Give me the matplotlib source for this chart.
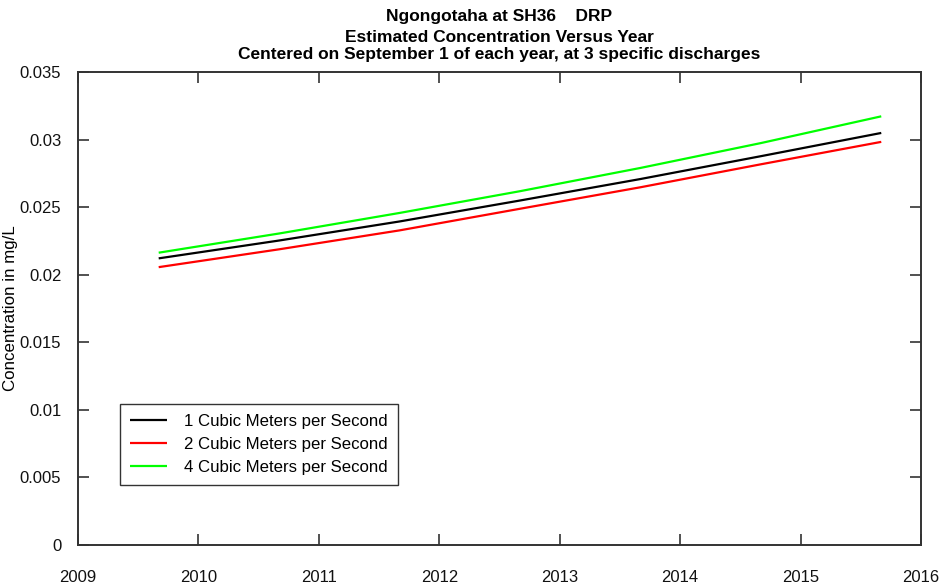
import matplotlib
matplotlib.use("Agg")
import matplotlib.pyplot as plt

# Estimated DRP concentration, centred on 1 September of each year
years = [2009.67, 2010.67, 2011.67, 2012.67, 2013.67, 2014.67, 2015.67]
conc_q1 = [0.02121, 0.02253, 0.02394, 0.02549, 0.02708, 0.02877, 0.03049]
conc_q2 = [0.02056, 0.02188, 0.02328, 0.02488, 0.02647, 0.02817, 0.02983]
conc_q4 = [0.02163, 0.02305, 0.02457, 0.02618, 0.02790, 0.02974, 0.03172]

series_labels = ["1 Cubic Meters per Second",
                 "2 Cubic Meters per Second",
                 "4 Cubic Meters per Second"]
series_colors = ["#000000", "#ff0000", "#00ff00"]

x_ticks = [2009, 2010, 2011, 2012, 2013, 2014, 2015, 2016]
y_ticks = [0, 0.005, 0.01, 0.015, 0.02, 0.025, 0.03, 0.035]
y_tick_labels = ["0", "0.005", "0.01", "0.015", "0.02", "0.025", "0.03", "0.035"]

title_lines = ["Ngongotaha at SH36    DRP",
               "Estimated Concentration Versus Year",
               "Centered on September 1 of each year, at 3 specific discharges"]

plt.rcParams["font.family"] = ["Liberation Sans", "DejaVu Sans"]

fig = plt.figure(figsize=(9.46, 5.86), dpi=100)
ax = fig.add_axes([78 / 946, 1 - 545 / 586, (921 - 78) / 946, (545 - 72) / 586])

for vals, lab, col in zip([conc_q1, conc_q2, conc_q4], series_labels, series_colors):
    ax.plot(years, vals, color=col, lw=1.6, label=lab, solid_capstyle="butt")

ax.set_xlim(2009, 2016)
ax.set_ylim(0, 0.035)
ax.set_xticks(x_ticks)
ax.set_xticklabels([str(t) for t in x_ticks], fontsize=12)
ax.set_yticks(y_ticks)
ax.set_yticklabels(y_tick_labels, fontsize=12)

ax.tick_params(axis="both", direction="in", length=8, width=1.2, color="#333333",
               top=True, right=True, labelcolor="#111111")
ax.tick_params(axis="x", pad=18)
ax.tick_params(axis="y", pad=12)
for s in ax.spines.values():
    s.set_color("#333333")
    s.set_linewidth(1.4)

ax.set_ylabel("Concentration in mg/L", fontsize=12.2)
ax.yaxis.set_label_coords((18 - 78) / 843, 0.5)

for line, y in zip(title_lines, [17, 37, 55]):
    fig.text(0.5 * (78 + 921) / 946, 1 - y / 586, line, ha="center", va="center",
             fontsize=12.5, fontweight="bold")

leg = ax.legend(loc="lower left", bbox_to_anchor=((120 - 78) / 843, (545 - 485) / 473),
                fontsize=12.1, frameon=True, fancybox=False, edgecolor="#000000",
                handlelength=2.2, handletextpad=1.0, borderpad=0.6, labelspacing=0.48,
                borderaxespad=0)
leg.get_frame().set_linewidth(1.0)

fig.savefig("out.png", dpi=100, facecolor="white")
